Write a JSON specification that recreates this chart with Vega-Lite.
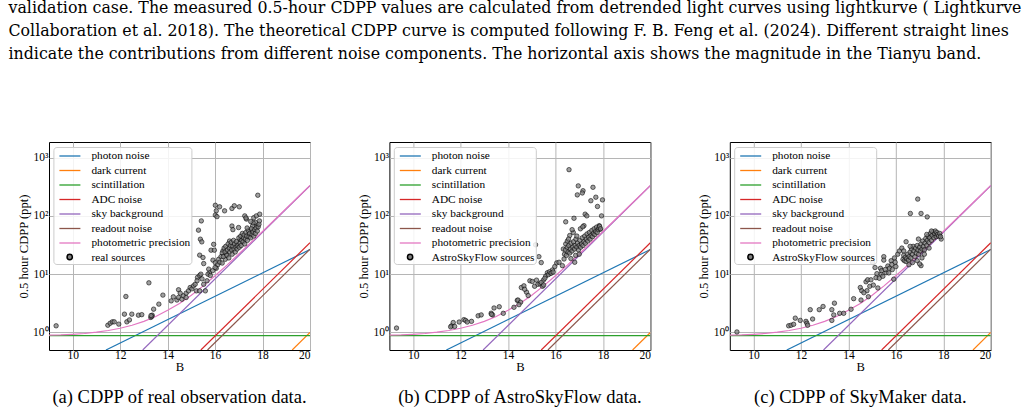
{
  "$schema": "https://vega.github.io/schema/vega-lite/v6.json",
  "padding": {"left": 8, "top": 0, "right": 5, "bottom": 4},
  "title": {
    "text": [
      "validation case. The measured 0.5-hour CDPP values are calculated from detrended light curves using lightkurve ( Lightkurve",
      "Collaboration et al. 2018). The theoretical CDPP curve is computed following F. B. Feng et al. (2024). Different straight lines",
      "indicate the contributions from different noise components. The horizontal axis shows the magnitude in the Tianyu band."
    ],
    "anchor": "start",
    "frame": "bounds",
    "font": "DejaVu Serif",
    "fontSize": 15.8,
    "fontWeight": "normal",
    "color": "black",
    "lineHeight": 23,
    "baseline": "top",
    "offset": 78.5,
    "dx": -8
  },
  "config": {
    "font": "Liberation Serif",
    "view": {"stroke": "black", "strokeWidth": 1},
    "axis": {
      "labelFont": "Liberation Serif",
      "titleFont": "Liberation Serif",
      "labelColor": "black",
      "titleColor": "black",
      "labelFontSize": 11.5,
      "titleFontSize": 12.6,
      "titleFontWeight": "normal",
      "gridColor": "#b5b5b5",
      "gridWidth": 1,
      "domain": false,
      "ticks": false
    },
    "legend": {
      "orient": "none",
      "title": null,
      "labelFont": "Liberation Serif",
      "labelColor": "black",
      "labelLimit": 220
    }
  },
  "datasets": {
    "noise": [
      {"series": "photon noise", "B": 11.4, "cdpp": 0.5},
      {"series": "photon noise", "B": 20, "cdpp": 26.5},
      {"series": "dark current", "B": 19.25, "cdpp": 0.5},
      {"series": "dark current", "B": 20, "cdpp": 1.0},
      {"series": "scintillation", "B": 9, "cdpp": 0.88},
      {"series": "scintillation", "B": 20, "cdpp": 0.88},
      {"series": "ADC noise", "B": 15.4, "cdpp": 0.5},
      {"series": "ADC noise", "B": 20, "cdpp": 34.6},
      {"series": "sky background", "B": 12.95, "cdpp": 0.5},
      {"series": "sky background", "B": 20, "cdpp": 330},
      {"series": "readout noise", "B": 15.68, "cdpp": 0.5},
      {"series": "readout noise", "B": 20, "cdpp": 26.8},
      {"series": "photometric precision", "B": 9, "cdpp": 0.9},
      {"series": "photometric precision", "B": 9.5, "cdpp": 0.91},
      {"series": "photometric precision", "B": 10, "cdpp": 0.93},
      {"series": "photometric precision", "B": 10.5, "cdpp": 0.96},
      {"series": "photometric precision", "B": 11, "cdpp": 1.01},
      {"series": "photometric precision", "B": 11.5, "cdpp": 1.08},
      {"series": "photometric precision", "B": 12, "cdpp": 1.18},
      {"series": "photometric precision", "B": 12.5, "cdpp": 1.33},
      {"series": "photometric precision", "B": 13, "cdpp": 1.55},
      {"series": "photometric precision", "B": 13.5, "cdpp": 1.88},
      {"series": "photometric precision", "B": 14, "cdpp": 2.4},
      {"series": "photometric precision", "B": 14.5, "cdpp": 3.15},
      {"series": "photometric precision", "B": 15, "cdpp": 4.35},
      {"series": "photometric precision", "B": 15.5, "cdpp": 6.3},
      {"series": "photometric precision", "B": 16, "cdpp": 9.4},
      {"series": "photometric precision", "B": 16.5, "cdpp": 14.3},
      {"series": "photometric precision", "B": 17, "cdpp": 22.2},
      {"series": "photometric precision", "B": 17.5, "cdpp": 34.5},
      {"series": "photometric precision", "B": 18, "cdpp": 54},
      {"series": "photometric precision", "B": 18.5, "cdpp": 85},
      {"series": "photometric precision", "B": 19, "cdpp": 134},
      {"series": "photometric precision", "B": 19.5, "cdpp": 211},
      {"series": "photometric precision", "B": 20, "cdpp": 334}
    ],
    "real": [
      {"B": 9.3, "cdpp": 1.3}, {"B": 11.48, "cdpp": 1.33}, {"B": 11.58, "cdpp": 1.44}, {"B": 11.67, "cdpp": 1.52},
      {"B": 11.75, "cdpp": 1.52}, {"B": 11.94, "cdpp": 1.39}, {"B": 12.24, "cdpp": 4.14}, {"B": 12.18, "cdpp": 2.06},
      {"B": 12.28, "cdpp": 1.52}, {"B": 12.39, "cdpp": 1.64}, {"B": 12.49, "cdpp": 2.06}, {"B": 12.77, "cdpp": 1.98},
      {"B": 12.91, "cdpp": 2.02}, {"B": 13.21, "cdpp": 7.1}, {"B": 13.29, "cdpp": 1.81}, {"B": 13.35, "cdpp": 1.98},
      {"B": 13.41, "cdpp": 2.51}, {"B": 13.33, "cdpp": 1.88}, {"B": 13.3, "cdpp": 1.95}, {"B": 13.63, "cdpp": 3.06},
      {"B": 13.8, "cdpp": 4.37}, {"B": 14.15, "cdpp": 3.48}, {"B": 14.24, "cdpp": 4.08}, {"B": 14.39, "cdpp": 3.6},
      {"B": 14.46, "cdpp": 5.4}, {"B": 14.53, "cdpp": 4.72}, {"B": 14.46, "cdpp": 3.98}, {"B": 14.6, "cdpp": 3.72},
      {"B": 14.67, "cdpp": 4.25}, {"B": 14.78, "cdpp": 4.72}, {"B": 14.78, "cdpp": 3.98}, {"B": 14.88, "cdpp": 5.17},
      {"B": 14.95, "cdpp": 5.9}, {"B": 15.02, "cdpp": 5.6}, {"B": 15.09, "cdpp": 6.3}, {"B": 15.16, "cdpp": 6.7},
      {"B": 15.21, "cdpp": 5.17}, {"B": 15.26, "cdpp": 8.8}, {"B": 15.35, "cdpp": 9.5}, {"B": 15.4, "cdpp": 10},
      {"B": 15.24, "cdpp": 7.7}, {"B": 15.45, "cdpp": 8.3}, {"B": 15.52, "cdpp": 6.7}, {"B": 15.35, "cdpp": 5.17},
      {"B": 15.59, "cdpp": 5.17}, {"B": 15.66, "cdpp": 7.7}, {"B": 15.3, "cdpp": 56.9}, {"B": 15.42, "cdpp": 82},
      {"B": 15.38, "cdpp": 39.8}, {"B": 15.44, "cdpp": 35.8}, {"B": 15.35, "cdpp": 21.2}, {"B": 15.49, "cdpp": 19.3},
      {"B": 15.52, "cdpp": 15.2}, {"B": 15.73, "cdpp": 12.2}, {"B": 15.77, "cdpp": 10.5}, {"B": 15.7, "cdpp": 10},
      {"B": 15.8, "cdpp": 9.5}, {"B": 15.83, "cdpp": 25.8}, {"B": 15.97, "cdpp": 25.8}, {"B": 15.94, "cdpp": 32.5},
      {"B": 15.91, "cdpp": 17.4}, {"B": 16.01, "cdpp": 15.7}, {"B": 16.11, "cdpp": 14.5}, {"B": 16.05, "cdpp": 12.6},
      {"B": 16.01, "cdpp": 152}, {"B": 16.19, "cdpp": 143}, {"B": 16.05, "cdpp": 122}, {"B": 16.01, "cdpp": 103},
      {"B": 16.08, "cdpp": 97}, {"B": 16.4, "cdpp": 122}, {"B": 16.71, "cdpp": 134}, {"B": 16.81, "cdpp": 149},
      {"B": 17.02, "cdpp": 143}, {"B": 17.25, "cdpp": 100}, {"B": 17.32, "cdpp": 88}, {"B": 17.8, "cdpp": 226},
      {"B": 17.63, "cdpp": 93}, {"B": 17.74, "cdpp": 100}, {"B": 17.88, "cdpp": 107}, {"B": 17.7, "cdpp": 77},
      {"B": 17.77, "cdpp": 67}, {"B": 17.58, "cdpp": 67}, {"B": 17.51, "cdpp": 55}, {"B": 17.41, "cdpp": 48.5},
      {"B": 16.99, "cdpp": 63}, {"B": 16.71, "cdpp": 67}, {"B": 16.75, "cdpp": 58}, {"B": 16.61, "cdpp": 37},
      {"B": 16.43, "cdpp": 18}, {"B": 16.47, "cdpp": 22}, {"B": 16.33, "cdpp": 25}, {"B": 16.15, "cdpp": 18},
      {"B": 16.3, "cdpp": 23}, {"B": 16.92, "cdpp": 33}, {"B": 17.06, "cdpp": 39},
      {"B": 15.9, "cdpp": 11.5}, {"B": 16.0, "cdpp": 13}, {"B": 16.2, "cdpp": 16}, {"B": 16.25, "cdpp": 20}, {"B": 16.3, "cdpp": 15.5},
      {"B": 16.35, "cdpp": 20}, {"B": 16.38, "cdpp": 28}, {"B": 16.42, "cdpp": 24}, {"B": 16.45, "cdpp": 30},
      {"B": 16.5, "cdpp": 21}, {"B": 16.52, "cdpp": 26}, {"B": 16.55, "cdpp": 33}, {"B": 16.58, "cdpp": 19},
      {"B": 16.6, "cdpp": 28}, {"B": 16.62, "cdpp": 24}, {"B": 16.65, "cdpp": 31}, {"B": 16.68, "cdpp": 35},
      {"B": 16.7, "cdpp": 26}, {"B": 16.72, "cdpp": 22}, {"B": 16.75, "cdpp": 30}, {"B": 16.78, "cdpp": 38},
      {"B": 16.8, "cdpp": 27}, {"B": 16.82, "cdpp": 33}, {"B": 16.85, "cdpp": 24}, {"B": 16.88, "cdpp": 29},
      {"B": 16.9, "cdpp": 36}, {"B": 16.93, "cdpp": 27}, {"B": 16.96, "cdpp": 31}, {"B": 17.0, "cdpp": 42},
      {"B": 17.02, "cdpp": 29}, {"B": 17.05, "cdpp": 34}, {"B": 17.08, "cdpp": 45}, {"B": 17.1, "cdpp": 31},
      {"B": 17.12, "cdpp": 38}, {"B": 17.15, "cdpp": 50}, {"B": 17.18, "cdpp": 36}, {"B": 17.2, "cdpp": 42},
      {"B": 17.22, "cdpp": 47}, {"B": 17.25, "cdpp": 33}, {"B": 17.28, "cdpp": 40}, {"B": 17.3, "cdpp": 52},
      {"B": 17.33, "cdpp": 45}, {"B": 17.36, "cdpp": 38}, {"B": 17.4, "cdpp": 56}, {"B": 17.43, "cdpp": 44},
      {"B": 17.46, "cdpp": 50}, {"B": 17.5, "cdpp": 42}, {"B": 17.53, "cdpp": 60}, {"B": 17.56, "cdpp": 48},
      {"B": 17.6, "cdpp": 53}, {"B": 17.63, "cdpp": 45}, {"B": 17.67, "cdpp": 58}, {"B": 17.7, "cdpp": 50},
      {"B": 17.73, "cdpp": 62}, {"B": 17.78, "cdpp": 55}, {"B": 17.82, "cdpp": 65}, {"B": 17.85, "cdpp": 72},
      {"B": 17.87, "cdpp": 82}, {"B": 17.6, "cdpp": 76}, {"B": 17.5, "cdpp": 80}, {"B": 17.3, "cdpp": 92},
      {"B": 17.35, "cdpp": 62}
    ],
    "asf": [
      {"B": 9.3, "cdpp": 1.19}, {"B": 11.62, "cdpp": 1.3}, {"B": 11.69, "cdpp": 1.48}, {"B": 11.58, "cdpp": 1.25},
      {"B": 11.75, "cdpp": 1.27}, {"B": 11.94, "cdpp": 1.51}, {"B": 12.14, "cdpp": 1.66}, {"B": 12.21, "cdpp": 1.61},
      {"B": 12.28, "cdpp": 1.51}, {"B": 12.46, "cdpp": 1.55}, {"B": 12.74, "cdpp": 1.93}, {"B": 12.87, "cdpp": 2.0},
      {"B": 13.29, "cdpp": 2.14}, {"B": 13.35, "cdpp": 2.0}, {"B": 13.41, "cdpp": 2.63}, {"B": 13.3, "cdpp": 2.05},
      {"B": 13.63, "cdpp": 2.76}, {"B": 13.8, "cdpp": 2.13}, {"B": 14.25, "cdpp": 2.7}, {"B": 14.39, "cdpp": 3.55},
      {"B": 14.42, "cdpp": 3.6}, {"B": 14.53, "cdpp": 3.3}, {"B": 14.46, "cdpp": 3.0}, {"B": 14.56, "cdpp": 5.9},
      {"B": 14.67, "cdpp": 6.3}, {"B": 14.78, "cdpp": 4.9}, {"B": 14.92, "cdpp": 7.7}, {"B": 15.02, "cdpp": 7.5},
      {"B": 15.12, "cdpp": 6.2}, {"B": 15.2, "cdpp": 7.9}, {"B": 15.26, "cdpp": 6.7}, {"B": 15.35, "cdpp": 6.8},
      {"B": 15.45, "cdpp": 6.2}, {"B": 15.16, "cdpp": 31.9}, {"B": 15.3, "cdpp": 20}, {"B": 15.4, "cdpp": 15.8},
      {"B": 15.49, "cdpp": 7.9}, {"B": 15.59, "cdpp": 9.3}, {"B": 15.66, "cdpp": 10.6}, {"B": 15.77, "cdpp": 10.3},
      {"B": 15.87, "cdpp": 11.8}, {"B": 15.97, "cdpp": 13.5}, {"B": 16.05, "cdpp": 15.6}, {"B": 16.15, "cdpp": 16},
      {"B": 16.29, "cdpp": 14}, {"B": 16.36, "cdpp": 18.2}, {"B": 16.33, "cdpp": 27}, {"B": 16.43, "cdpp": 79},
      {"B": 16.43, "cdpp": 33}, {"B": 16.5, "cdpp": 37}, {"B": 16.57, "cdpp": 620}, {"B": 16.75, "cdpp": 52},
      {"B": 16.78, "cdpp": 91}, {"B": 16.81, "cdpp": 16}, {"B": 16.96, "cdpp": 327}, {"B": 16.92, "cdpp": 229},
      {"B": 17.16, "cdpp": 270}, {"B": 17.13, "cdpp": 247}, {"B": 17.25, "cdpp": 107}, {"B": 17.32, "cdpp": 100},
      {"B": 17.49, "cdpp": 182}, {"B": 17.58, "cdpp": 309}, {"B": 17.7, "cdpp": 209}, {"B": 17.77, "cdpp": 145},
      {"B": 17.98, "cdpp": 188}, {"B": 17.94, "cdpp": 100}, {"B": 17.2, "cdpp": 68}, {"B": 17.84, "cdpp": 68},
      {"B": 17.88, "cdpp": 59},
      {"B": 15.4, "cdpp": 7.2}, {"B": 15.5, "cdpp": 6.5}, {"B": 15.55, "cdpp": 8.5}, {"B": 15.7, "cdpp": 9.8},
      {"B": 15.75, "cdpp": 11}, {"B": 15.82, "cdpp": 10.4}, {"B": 15.9, "cdpp": 10.9}, {"B": 14.85, "cdpp": 4.3},
      {"B": 14.7, "cdpp": 5.5},
      {"B": 16.38, "cdpp": 22}, {"B": 16.42, "cdpp": 26}, {"B": 16.46, "cdpp": 21}, {"B": 16.5, "cdpp": 29},
      {"B": 16.53, "cdpp": 24}, {"B": 16.56, "cdpp": 31}, {"B": 16.6, "cdpp": 23}, {"B": 16.63, "cdpp": 27},
      {"B": 16.66, "cdpp": 34}, {"B": 16.7, "cdpp": 25}, {"B": 16.73, "cdpp": 29}, {"B": 16.76, "cdpp": 36},
      {"B": 16.8, "cdpp": 27}, {"B": 16.83, "cdpp": 31}, {"B": 16.86, "cdpp": 40}, {"B": 16.9, "cdpp": 29},
      {"B": 16.93, "cdpp": 34}, {"B": 16.97, "cdpp": 26}, {"B": 17.0, "cdpp": 31}, {"B": 17.03, "cdpp": 38},
      {"B": 17.06, "cdpp": 29}, {"B": 17.1, "cdpp": 33}, {"B": 17.13, "cdpp": 42}, {"B": 17.16, "cdpp": 31},
      {"B": 17.2, "cdpp": 36}, {"B": 17.23, "cdpp": 45}, {"B": 17.26, "cdpp": 34}, {"B": 17.3, "cdpp": 40},
      {"B": 17.33, "cdpp": 49}, {"B": 17.36, "cdpp": 37}, {"B": 17.4, "cdpp": 43}, {"B": 17.43, "cdpp": 52},
      {"B": 17.46, "cdpp": 40}, {"B": 17.5, "cdpp": 46}, {"B": 17.53, "cdpp": 56}, {"B": 17.56, "cdpp": 44},
      {"B": 17.6, "cdpp": 50}, {"B": 17.63, "cdpp": 60}, {"B": 17.66, "cdpp": 48}, {"B": 17.7, "cdpp": 54},
      {"B": 17.73, "cdpp": 64}, {"B": 17.76, "cdpp": 52}, {"B": 17.8, "cdpp": 58}, {"B": 17.83, "cdpp": 62},
      {"B": 17.86, "cdpp": 66}, {"B": 17.9, "cdpp": 60}, {"B": 16.6, "cdpp": 46}, {"B": 16.7, "cdpp": 58},
      {"B": 16.9, "cdpp": 45}, {"B": 17.05, "cdpp": 60}, {"B": 17.15, "cdpp": 65}, {"B": 16.55, "cdpp": 40},
      {"B": 16.85, "cdpp": 21}, {"B": 17.0, "cdpp": 22}, {"B": 16.65, "cdpp": 18.5}
    ],
    "skymaker": [
      {"B": 9.3, "cdpp": 1.02}, {"B": 11.48, "cdpp": 1.3}, {"B": 11.58, "cdpp": 1.33}, {"B": 11.69, "cdpp": 1.38},
      {"B": 11.76, "cdpp": 1.76}, {"B": 11.97, "cdpp": 1.61}, {"B": 12.21, "cdpp": 1.55}, {"B": 12.25, "cdpp": 1.44},
      {"B": 12.28, "cdpp": 1.33}, {"B": 12.39, "cdpp": 2.46}, {"B": 12.49, "cdpp": 1.7}, {"B": 12.77, "cdpp": 2.46},
      {"B": 12.93, "cdpp": 2.79}, {"B": 13.3, "cdpp": 2.46}, {"B": 13.41, "cdpp": 3.18}, {"B": 13.38, "cdpp": 2.0},
      {"B": 13.3, "cdpp": 1.61}, {"B": 13.63, "cdpp": 2.13}, {"B": 13.8, "cdpp": 2.13}, {"B": 14.11, "cdpp": 2.5},
      {"B": 14.22, "cdpp": 3.8}, {"B": 14.5, "cdpp": 5.9}, {"B": 14.56, "cdpp": 5.2}, {"B": 14.53, "cdpp": 3.6},
      {"B": 14.74, "cdpp": 7.4}, {"B": 14.81, "cdpp": 8}, {"B": 14.78, "cdpp": 5.2}, {"B": 14.84, "cdpp": 4.1},
      {"B": 14.95, "cdpp": 8}, {"B": 15.02, "cdpp": 15.9}, {"B": 15.12, "cdpp": 13}, {"B": 15.16, "cdpp": 8.7},
      {"B": 15.2, "cdpp": 10.2}, {"B": 15.24, "cdpp": 5.8}, {"B": 15.35, "cdpp": 12.6}, {"B": 15.38, "cdpp": 10},
      {"B": 15.4, "cdpp": 11.5}, {"B": 15.49, "cdpp": 20}, {"B": 15.49, "cdpp": 17.4}, {"B": 15.59, "cdpp": 10.6},
      {"B": 15.66, "cdpp": 13.8}, {"B": 15.73, "cdpp": 12.6}, {"B": 15.8, "cdpp": 17}, {"B": 15.83, "cdpp": 14.7},
      {"B": 15.94, "cdpp": 19}, {"B": 15.91, "cdpp": 8.2}, {"B": 15.97, "cdpp": 16}, {"B": 16.08, "cdpp": 22},
      {"B": 16.15, "cdpp": 25}, {"B": 16.25, "cdpp": 28}, {"B": 16.33, "cdpp": 25}, {"B": 16.43, "cdpp": 36},
      {"B": 16.61, "cdpp": 110}, {"B": 16.92, "cdpp": 194}, {"B": 17.06, "cdpp": 110}, {"B": 17.32, "cdpp": 96},
      {"B": 17.06, "cdpp": 14}, {"B": 17.91, "cdpp": 40}, {"B": 17.63, "cdpp": 46}, {"B": 17.84, "cdpp": 46},
      {"B": 14.65, "cdpp": 4.8}, {"B": 14.9, "cdpp": 6.2}, {"B": 15.05, "cdpp": 6.5}, {"B": 15.3, "cdpp": 8.5},
      {"B": 15.45, "cdpp": 9.2}, {"B": 15.55, "cdpp": 12}, {"B": 15.7, "cdpp": 10.5}, {"B": 15.85, "cdpp": 12},
      {"B": 16.0, "cdpp": 13.5},
      {"B": 16.3, "cdpp": 18}, {"B": 16.33, "cdpp": 21}, {"B": 16.36, "cdpp": 17}, {"B": 16.4, "cdpp": 19.5},
      {"B": 16.43, "cdpp": 16.5}, {"B": 16.46, "cdpp": 18.5}, {"B": 16.5, "cdpp": 22}, {"B": 16.53, "cdpp": 17.5},
      {"B": 16.56, "cdpp": 20}, {"B": 16.6, "cdpp": 24}, {"B": 16.63, "cdpp": 19}, {"B": 16.66, "cdpp": 27},
      {"B": 16.7, "cdpp": 22}, {"B": 16.73, "cdpp": 30}, {"B": 16.76, "cdpp": 25}, {"B": 16.8, "cdpp": 20},
      {"B": 16.83, "cdpp": 28}, {"B": 16.86, "cdpp": 23}, {"B": 16.9, "cdpp": 31}, {"B": 16.93, "cdpp": 26},
      {"B": 16.96, "cdpp": 22}, {"B": 17.0, "cdpp": 29}, {"B": 17.03, "cdpp": 25}, {"B": 17.06, "cdpp": 33},
      {"B": 17.1, "cdpp": 27}, {"B": 17.13, "cdpp": 37}, {"B": 17.16, "cdpp": 30}, {"B": 17.2, "cdpp": 26},
      {"B": 17.23, "cdpp": 34}, {"B": 17.26, "cdpp": 41}, {"B": 17.3, "cdpp": 31}, {"B": 17.33, "cdpp": 38},
      {"B": 17.36, "cdpp": 45}, {"B": 17.4, "cdpp": 35}, {"B": 17.43, "cdpp": 42}, {"B": 17.46, "cdpp": 50},
      {"B": 17.5, "cdpp": 38}, {"B": 17.53, "cdpp": 46}, {"B": 17.56, "cdpp": 53}, {"B": 17.6, "cdpp": 42},
      {"B": 17.63, "cdpp": 50}, {"B": 17.66, "cdpp": 55}, {"B": 17.7, "cdpp": 44}, {"B": 17.73, "cdpp": 52},
      {"B": 17.76, "cdpp": 48}, {"B": 17.8, "cdpp": 45}, {"B": 17.85, "cdpp": 50}, {"B": 17.88, "cdpp": 44},
      {"B": 16.9, "cdpp": 17}, {"B": 17.1, "cdpp": 19}, {"B": 17.0, "cdpp": 15}, {"B": 16.7, "cdpp": 15.8},
      {"B": 16.55, "cdpp": 14.5}, {"B": 17.2, "cdpp": 22}, {"B": 17.4, "cdpp": 28}, {"B": 17.5, "cdpp": 55},
      {"B": 17.3, "cdpp": 48}, {"B": 16.95, "cdpp": 40}, {"B": 16.6, "cdpp": 30}
    ]
  },
  "spacing": 45.4,
  "resolve": {"scale": {"color": "independent", "shape": "independent"}, "legend": {"color": "independent", "shape": "independent"}},
  "hconcat": [
    {
      "width": 261,
      "height": 208,
      "title": {"text": "(a) CDPP of real observation data.", "orient": "bottom", "anchor": "middle", "frame": "group", "offset": 15, "font": "Liberation Serif", "fontSize": 18.5, "fontWeight": "normal", "color": "black"},
      "layer": [
        {
          "data": {"name": "noise"},
          "mark": {"type": "line", "clip": true, "strokeWidth": 1.2},
          "encoding": {
            "x": {"field": "B", "type": "quantitative", "scale": {"domain": [9, 20], "nice": false, "zero": false}, "axis": {"values": [10, 12, 14, 16, 18, 20], "title": "B", "labelPadding": -1, "titlePadding": 0}},
            "y": {"field": "cdpp", "type": "quantitative", "scale": {"type": "log", "domain": [0.5, 1850], "nice": false}, "axis": {"values": [1, 10, 100, 1000], "labelExpr": "datum.value == 1 ? '10⁰' : datum.value == 10 ? '10¹' : datum.value == 100 ? '10²' : '10³'", "title": "0.5 hour CDPP (ppt)", "labelPadding": 1, "titlePadding": 2.5}},
            "color": {
              "field": "series", "type": "nominal",
              "scale": {"domain": ["photon noise", "dark current", "scintillation", "ADC noise", "sky background", "readout noise", "photometric precision", "real sources"], "range": ["#1f77b4", "#ff7f0e", "#2ca02c", "#d62728", "#9467bd", "#8c564b", "#e377c2", "transparent"]},
              "legend": {"legendX": 4.4, "legendY": 5, "symbolType": "M-1.5,0H1.5", "symbolSize": 196, "symbolStrokeWidth": 1.3, "symbolOffset": 7.5, "labelOffset": 13.5, "labelFontSize": 11.3, "rowPadding": 0.5, "padding": 1, "strokeColor": "#cccccc", "fillColor": "rgba(255,255,255,0.85)", "cornerRadius": 3}
            }
          }
        },
        {
          "data": {"name": "real"},
          "mark": {"type": "point", "filled": true, "clip": true, "size": 20, "fill": "#808080", "fillOpacity": 0.75, "stroke": "black", "strokeWidth": 0.7, "strokeOpacity": 0.8},
          "encoding": {
            "x": {"field": "B", "type": "quantitative"},
            "y": {"field": "cdpp", "type": "quantitative"},
            "shape": {"datum": "real sources", "type": "nominal", "scale": {"range": ["circle"]}, "legend": {"legendX": 17.2, "legendY": 111.5, "symbolSize": 28, "labelExpr": "''", "labelFontSize": 5, "padding": 0, "symbolOffset": 0, "labelOffset": 0}}
          }
        }
      ]
    },
    {
      "width": 261,
      "height": 208,
      "title": {"text": "(b) CDPP of AstroSkyFlow data.", "orient": "bottom", "anchor": "middle", "frame": "group", "offset": 15, "font": "Liberation Serif", "fontSize": 18.5, "fontWeight": "normal", "color": "black"},
      "layer": [
        {
          "data": {"name": "noise"},
          "mark": {"type": "line", "clip": true, "strokeWidth": 1.2},
          "encoding": {
            "x": {"field": "B", "type": "quantitative", "scale": {"domain": [9, 20], "nice": false, "zero": false}, "axis": {"values": [10, 12, 14, 16, 18, 20], "title": "B", "labelPadding": -1, "titlePadding": 0}},
            "y": {"field": "cdpp", "type": "quantitative", "scale": {"type": "log", "domain": [0.5, 1850], "nice": false}, "axis": {"values": [1, 10, 100, 1000], "labelExpr": "datum.value == 1 ? '10⁰' : datum.value == 10 ? '10¹' : datum.value == 100 ? '10²' : '10³'", "title": "0.5 hour CDPP (ppt)", "labelPadding": 1, "titlePadding": 2.5}},
            "color": {
              "field": "series", "type": "nominal",
              "scale": {"domain": ["photon noise", "dark current", "scintillation", "ADC noise", "sky background", "readout noise", "photometric precision", "AstroSkyFlow sources"], "range": ["#1f77b4", "#ff7f0e", "#2ca02c", "#d62728", "#9467bd", "#8c564b", "#e377c2", "transparent"]},
              "legend": {"legendX": 4.4, "legendY": 5, "symbolType": "M-1.5,0H1.5", "symbolSize": 196, "symbolStrokeWidth": 1.3, "symbolOffset": 7.5, "labelOffset": 13.5, "labelFontSize": 11.3, "rowPadding": 0.5, "padding": 1, "strokeColor": "#cccccc", "fillColor": "rgba(255,255,255,0.85)", "cornerRadius": 3}
            }
          }
        },
        {
          "data": {"name": "asf"},
          "mark": {"type": "point", "filled": true, "clip": true, "size": 20, "fill": "#808080", "fillOpacity": 0.75, "stroke": "black", "strokeWidth": 0.7, "strokeOpacity": 0.8},
          "encoding": {
            "x": {"field": "B", "type": "quantitative"},
            "y": {"field": "cdpp", "type": "quantitative"},
            "shape": {"datum": "AstroSkyFlow sources", "type": "nominal", "scale": {"range": ["circle"]}, "legend": {"legendX": 17.2, "legendY": 111.5, "symbolSize": 28, "labelExpr": "''", "labelFontSize": 5, "padding": 0, "symbolOffset": 0, "labelOffset": 0}}
          }
        }
      ]
    },
    {
      "width": 261,
      "height": 208,
      "title": {"text": "(c) CDPP of SkyMaker data.", "orient": "bottom", "anchor": "middle", "frame": "group", "offset": 15, "font": "Liberation Serif", "fontSize": 18.5, "fontWeight": "normal", "color": "black"},
      "layer": [
        {
          "data": {"name": "noise"},
          "mark": {"type": "line", "clip": true, "strokeWidth": 1.2},
          "encoding": {
            "x": {"field": "B", "type": "quantitative", "scale": {"domain": [9, 20], "nice": false, "zero": false}, "axis": {"values": [10, 12, 14, 16, 18, 20], "title": "B", "labelPadding": -1, "titlePadding": 0}},
            "y": {"field": "cdpp", "type": "quantitative", "scale": {"type": "log", "domain": [0.5, 1850], "nice": false}, "axis": {"values": [1, 10, 100, 1000], "labelExpr": "datum.value == 1 ? '10⁰' : datum.value == 10 ? '10¹' : datum.value == 100 ? '10²' : '10³'", "title": "0.5 hour CDPP (ppt)", "labelPadding": 1, "titlePadding": 2.5}},
            "color": {
              "field": "series", "type": "nominal",
              "scale": {"domain": ["photon noise", "dark current", "scintillation", "ADC noise", "sky background", "readout noise", "photometric precision", "AstroSkyFlow sources"], "range": ["#1f77b4", "#ff7f0e", "#2ca02c", "#d62728", "#9467bd", "#8c564b", "#e377c2", "transparent"]},
              "legend": {"legendX": 4.4, "legendY": 5, "symbolType": "M-1.5,0H1.5", "symbolSize": 196, "symbolStrokeWidth": 1.3, "symbolOffset": 7.5, "labelOffset": 13.5, "labelFontSize": 11.3, "rowPadding": 0.5, "padding": 1, "strokeColor": "#cccccc", "fillColor": "rgba(255,255,255,0.85)", "cornerRadius": 3}
            }
          }
        },
        {
          "data": {"name": "skymaker"},
          "mark": {"type": "point", "filled": true, "clip": true, "size": 20, "fill": "#808080", "fillOpacity": 0.75, "stroke": "black", "strokeWidth": 0.7, "strokeOpacity": 0.8},
          "encoding": {
            "x": {"field": "B", "type": "quantitative"},
            "y": {"field": "cdpp", "type": "quantitative"},
            "shape": {"datum": "AstroSkyFlow sources", "type": "nominal", "scale": {"range": ["circle"]}, "legend": {"legendX": 17.2, "legendY": 111.5, "symbolSize": 28, "labelExpr": "''", "labelFontSize": 5, "padding": 0, "symbolOffset": 0, "labelOffset": 0}}
          }
        }
      ]
    }
  ]
}
